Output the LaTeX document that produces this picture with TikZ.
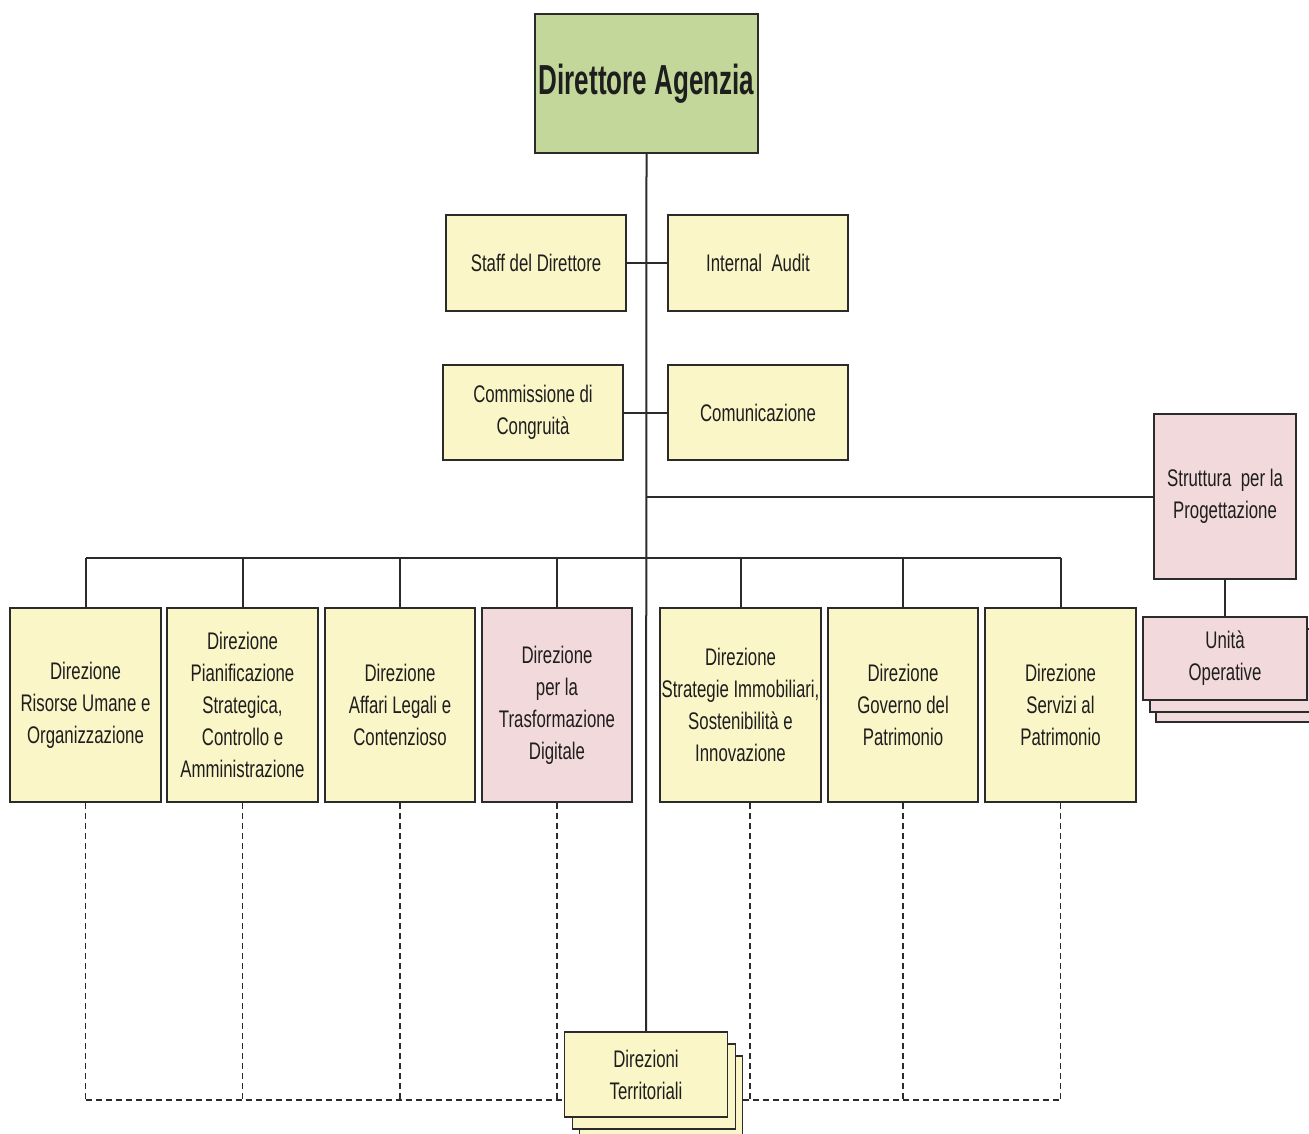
\documentclass[tikz,border=0pt]{standalone}
\usepackage{fontspec}
\setmainfont{Liberation Sans}[FakeStretch=0.7]
\newfontfamily\titlefont{Liberation Sans}[FakeStretch=0.62]
\usetikzlibrary{calc}
\definecolor{ybox}{HTML}{FAF6C8}
\definecolor{pbox}{HTML}{F2D9DB}
\definecolor{gbox}{HTML}{C4D79B}
\definecolor{edge}{HTML}{2B2B2B}
\definecolor{txt}{HTML}{1E1E1E}
\begin{document}
\begin{tikzpicture}[x=0.5pt,y=-0.5pt,
  unitbox/.style={draw=edge, line width=0.8pt, align=center, inner sep=0pt, text=txt,
    font=\fontsize{12}{16}\selectfont},
  yel/.style={unitbox, fill=ybox},
  pnk/.style={unitbox, fill=pbox},
  grn/.style={unitbox, fill=gbox},
  conn/.style={draw=edge, line width=1pt},
  dconn/.style={draw=edge, line width=0.7pt, dash pattern=on 3pt off 2pt},
  wd/.style={minimum width=#1*0.5pt},
  ht/.style={minimum height=#1*0.5pt}]
\useasboundingbox (0,0) rectangle (1309,1133);

% top
\node[grn, wd=223, ht=139, font=\titlefont\bfseries\fontsize{21}{25}\selectfont] (dir) at (646.5,83.5) {Direttore Agenzia};

% staff units
\node[yel, wd=180, ht=96] (staff) at (536,263) {Staff del Direttore};
\node[yel, wd=180, ht=96] (audit) at (758,263) {Internal\ \ Audit};
\node[yel, wd=180, ht=95] (comm) at (533,412.5) {Commissione di\\Congruità};
\node[yel, wd=180, ht=95] (comu) at (758,412.5) {Comunicazione};

% right structure
\node[pnk, wd=142, ht=165] (strut) at (1225,496.5) {Struttura\ \ per la\\Progettazione};
\node[pnk, wd=164, ht=83] (uo3) at (1238,680.5) {};
\node[pnk, wd=164, ht=83] (uo2) at (1232,670.5) {};
\node[pnk, wd=164, ht=83] (uo) at (1225,658.5) {Unità\\Operative};

% bottom row
\node[yel, wd=151, ht=194] (b1) at (85.5,705) {Direzione\\Risorse Umane e\\Organizzazione};
\node[yel, wd=151, ht=194] (b2) at (242.5,705) {Direzione\\Pianificazione\\Strategica,\\Controllo e\\Amministrazione};
\node[yel, wd=150, ht=194] (b3) at (400,705) {Direzione\\Affari Legali e\\Contenzioso};
\node[pnk, wd=150, ht=194] (b4) at (557,705) {Direzione\\per la\\Trasformazione\\Digitale};
\node[yel, wd=161, ht=194] (b5) at (740.5,705) {Direzione\\Strategie Immobiliari,\\Sostenibilità e\\Innovazione};
\node[yel, wd=150, ht=194] (b6) at (903,705) {Direzione\\Governo del\\Patrimonio};
\node[yel, wd=151, ht=194] (b7) at (1060.5,705) {Direzione\\Servizi al\\Patrimonio};

% territorial
\node[yel, wd=163, ht=85] (dt3) at (661,1098.5) {};
\node[yel, wd=163, ht=85] (dt2) at (654,1086.5) {};
\node[yel, wd=163, ht=85] (dt) at (646,1074.5) {Direzioni\\Territoriali};

% coordinates
\coordinate (bus) at (646,558);
\coordinate (dash) at (646,1100);

% solid connectors
\draw[conn] (dir.south) -- (dt.north);
\draw[conn] (staff.east) -- (audit.west);
\draw[conn] (comm.east) -- (comu.west);
\draw[conn] (dir.south |- strut.west) -- (strut.west);
\draw[conn] (strut.south) -- (uo.north);
\draw[conn] (b1.north |- bus) -- (b7.north |- bus);
\foreach \b in {b1,b2,b3,b4,b5,b6,b7}{
  \draw[conn] (\b.north) -- (\b.north |- bus);
}

% dashed connectors
\foreach \b in {b1,b2,b3,b4,b6,b7}{
  \draw[dconn] (\b.south) -- (\b.south |- dash);
}
\draw[dconn] ($(b5.south)+(9.5,0)$) -- ($(b5.south |- dash)+(9.5,0)$);
\draw[dconn] (b1.south |- dash) -- (dt.west |- dash);
\draw[dconn] (dt3.east |- dash) -- (b7.south |- dash);
\end{tikzpicture}
\end{document}
